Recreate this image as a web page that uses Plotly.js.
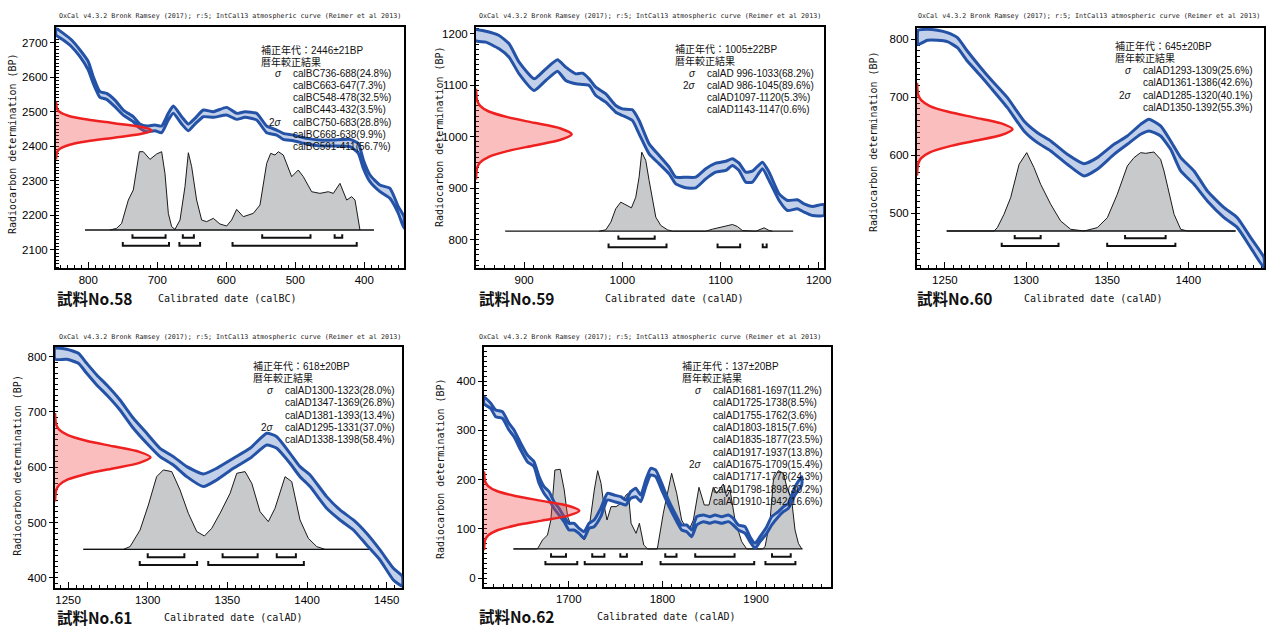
<!DOCTYPE html>
<html><head><meta charset="utf-8">
<script src="https://cdn.plot.ly/plotly-3.0.1.min.js"></script>
<style>html,body{margin:0;padding:0;background:#fff;}</style>
</head><body>
<div id="chart" style="width:1273px;height:628px;"></div>
<script>
// ---------------- DATA ----------------
const titleText = "OxCal v4.3.2 Bronk Ramsey (2017); r:5; IntCal13 atmospheric curve (Reimer et al 2013)";
const yTitleText = "Radiocarbon determination (BP)";

// common shape of the measured-date distribution (red), in sigma units / relative height
const redZ   = [-4, -3.5, -3, -2.5, -2, -1.5, -1, -0.5, 0, 0.5, 1, 1.5, 2, 2.5, 3, 3.5, 4];
const redAmp = [0, 0.001, 0.003, 0.012, 0.037, 0.09, 0.167, 0.243, 0.275, 0.243, 0.167, 0.09, 0.037, 0.012, 0.003, 0.001, 0];

// ---- 試料No.58 (calBC) ----
const s58_label = "試料No.58";
const s58_xTitle = "Calibrated date (calBC)";
const s58_mean = 2446, s58_sd = 21;
const s58_curveYear = [846.8,836.2,824.2,812,800,792.8,783.1,773.4,761.4,749.3,734.8,725.1,715.5,703.4,693.7,684.1,676.8,664.7,655.1,645.4,633.3,618.8,599.5,585,573,556,541.5,527,517.4,502.9,483.6,464.3,444.9,420.8,408.7,401.4,391.8,377.3,362.8,350.7,342.5];
const s58_curveUpper = [2741.5,2727,2707.7,2678.8,2645,2601.6,2558.2,2553.4,2534,2505.1,2485.8,2464.6,2458.8,2461.7,2458.8,2495.5,2516.7,2485.8,2464.6,2481,2505.1,2500.3,2512.8,2495.5,2500.3,2495.5,2458.8,2447.2,2437.6,2432.8,2423.1,2418.3,2418.3,2420.2,2408.6,2360.4,2317,2288,2278.4,2225.3,2196.4];
const s58_curveLower = [2722.2,2707.7,2688.4,2659.5,2620.9,2582.3,2541.8,2536,2514.8,2490.6,2471.3,2452,2442.4,2445.3,2439.5,2476.2,2495.5,2464.6,2445.3,2464.6,2485.8,2483.9,2490.6,2478.1,2483.9,2476.2,2439.5,2432.8,2420.2,2416.4,2406.7,2400.9,2400.9,2399,2379.7,2336.3,2297.7,2268.7,2249.4,2206,2162.6];
const s58_histYear = [768.6,759,751.7,742,734.8,726,720.3,710.6,701,693.7,688.9,684,679.2,674.4,667.1,659.9,655,650.2,643,635.7,628.5,618.8,609.2,599.5,592.3,585,575.4,560.9,551.2,541.5,535.7,529.5,524.6,517.4,505.3,495.7,488.4,476.3,464.3,452.2,444.9,435.3,425.6,418.4,413.5,406.3];
const s58_histBP = [2157.8,2162.6,2177,2244.6,2273.6,2384.5,2384.5,2362.3,2377.8,2384.5,2321.8,2206,2167.4,2159.7,2186.7,2283.2,2381.6,2341,2244.6,2186.7,2182,2191.6,2175.2,2169.4,2186.7,2217.6,2196.4,2206,2230.1,2350.7,2379.7,2374.9,2384.5,2374.9,2312.2,2331.5,2312.2,2268.7,2263.9,2268.7,2263.9,2292.9,2244.6,2254.3,2244.6,2157.8];
const s58_baseYear = [804.8, 386];
const s58_range1 = [[736,688],[663,647],[548,478],[443,432]];
const s58_range2 = [[750,683],[668,638],[591,411]];
const s58_head = ["補正年代：2446±21BP", "暦年較正結果"];
const s58_text1 = ["calBC736-688(24.8%)","calBC663-647(7.3%)","calBC548-478(32.5%)","calBC443-432(3.5%)"];
const s58_text2 = ["calBC750-683(28.8%)","calBC668-638(9.9%)","calBC591-411(56.7%)"];

// ---- 試料No.59 ----
const s59_label = "試料No.59";
const s59_xTitle = "Calibrated date (calAD)";
const s59_mean = 1005, s59_sd = 22;
const s59_curveYear = [850.1,861,874.5,884.7,894.9,910.2,922.1,934,942.4,952.6,959.4,966.2,973,983.2,993.3,1000.1,1010.3,1017.1,1027.3,1037.5,1047.7,1054.4,1064.6,1074.8,1085,1095.2,1105.4,1112.2,1118.9,1125.7,1132.5,1142.7,1149.5,1159.7,1168.2,1178.3,1185.1,1193.6,1205.4];
const s59_curveUpper = [1207.8,1205.2,1196.8,1180.6,1144.9,1112.5,1132,1149.5,1135.2,1122.2,1123.5,1112.5,1096.3,1083.3,1060.7,1054.2,1052.2,1031.5,986.1,963.5,940.8,921.3,921.3,921.3,937.5,948.5,952.4,957,948.5,931,933,950.5,931,888.9,876,877.3,869.5,864.3,868.2];
const s59_curveLower = [1187,1183.8,1170.8,1154.6,1122.2,1089.8,1109.3,1127.4,1109.3,1102.8,1101.5,1099.5,1080.1,1067.1,1047.7,1041.2,1031.5,1005.6,966.7,947.2,927.8,908.4,900.6,900.6,918,931,934.3,944,934.3,911.6,911.6,937.5,914.8,876,856.5,859.8,853.3,846.8,846.8];
const s59_histYear = [976.4,983.2,988.3,993.3,998.4,1003.5,1009.3,1013.7,1017.1,1019.8,1023.9,1027.3,1030.7,1034.1,1039.2,1046,1051,1085,1091.8,1102,1108.8,1112.2,1117.2,1122.3,1136,1141,1144.4,1149.5,1152.9];
const s59_histBP = [816.3,818.9,833.8,859.8,872.7,868.2,861.7,882.4,921.3,969.9,953.7,914.8,876,843.6,827.4,818.9,816.3,816.3,820.2,824.1,827.4,829.3,825.4,817.6,816.3,820.8,822.8,817.6,816.3];
const s59_baseYear = [880.7, 1174];
const s59_range1 = [[996,1033]];
const s59_range2 = [[986,1045],[1097,1120],[1143,1147]];
const s59_head = ["補正年代：1005±22BP", "暦年較正結果"];
const s59_text1 = ["calAD 996-1033(68.2%)"];
const s59_text2 = ["calAD 986-1045(89.6%)","calAD1097-1120(5.3%)","calAD1143-1147(0.6%)"];

// ---- 試料No.60 ----
const s60_label = "試料No.60";
const s60_xTitle = "Calibrated date (calAD)";
const s60_mean = 645, s60_sd = 20;
const s60_curveYear = [1233.5,1239.2,1245.4,1251.5,1257.7,1263.8,1272.1,1278.2,1288.5,1298.7,1307,1315.2,1325.4,1335.7,1343.9,1354.2,1362.4,1370.6,1375.8,1382.9,1389.1,1395.3,1403.5,1411.7,1422,1430.2,1438.4,1446.6];
const s60_curveUpper = [815.5,817.2,815.5,811.5,802.9,779.9,751.1,731,699.4,659.2,639,624.7,601.7,585.6,596,619,633.3,653.4,662.1,650.6,624.7,596,573,538.5,509.8,492.5,458,423.6];
const s60_curveLower = [791.4,798.3,798.3,796,785.6,762.6,736.8,716.7,682.2,642,621.8,607.5,584.5,564.4,575.9,601.7,619,636.2,642,633.3,610.3,573,550,521.3,492.5,475.3,440.8,406.3];
const s60_histYear = [1251.1,1280.3,1282.3,1286.4,1290.5,1295.7,1300.4,1304.9,1309,1315.2,1321.3,1327.5,1335.7,1343.9,1350.1,1356.2,1362.4,1366.5,1370.6,1373.7,1378.8,1382.9,1385,1389.1,1391.2,1395.3,1399.4,1429.1];
const s60_histBP = [469.5,469.5,475.3,498.3,527,584.5,604.6,578.7,550,515.5,486.8,472.4,469.5,475.3,492.5,532.8,581.6,596,604.6,603.4,605.7,593,573,521.3,498.3,472.4,469.5,469.5];
const s60_baseYear = [1251.1, 1429.1];
const s60_range1 = [[1293,1309],[1361,1386]];
const s60_range2 = [[1285,1320],[1350,1392]];
const s60_head = ["補正年代：645±20BP", "暦年較正結果"];
const s60_text1 = ["calAD1293-1309(25.6%)","calAD1361-1386(42.6%)"];
const s60_text2 = ["calAD1285-1320(40.1%)","calAD1350-1392(55.3%)"];

// ---- 試料No.61 ----
const s61_label = "試料No.61";
const s61_xTitle = "Calibrated date (calAD)";
const s61_mean = 618, s61_sd = 20;
const s61_curveYear = [1241.8,1249.2,1256.5,1261.7,1268,1274.3,1282.6,1291,1299.4,1307.7,1316.1,1324.5,1334.9,1343.3,1353.8,1364.2,1374.7,1381,1389.3,1395.6,1401.9,1412.3,1420.7,1429.1,1437.4,1445.8,1454.2,1459.8];
const s61_curveUpper = [815,813.3,806,788,766.9,748.8,721.7,688.6,661.4,634.3,619.3,601.2,588,598.2,616.3,634.3,661.4,655.4,625.3,601.2,586.1,547,522.9,504.8,480.7,450.6,417.5,403];
const s61_curveLower = [795.2,795.2,788,769.9,748.8,730.7,703.6,670.5,643.4,619.3,604.2,583.1,565.1,577.1,598.2,616.3,640.4,634.3,607.2,583.1,565.1,525.9,504.8,486.7,459.6,432.5,396.4,385];
const s61_histYear = [1259.6,1284.7,1288.9,1295.2,1300.4,1305.6,1309.8,1315.1,1320.3,1325.5,1330.8,1335.6,1340.2,1345.4,1351.7,1355.9,1361.1,1365.3,1370.5,1375.7,1379.9,1386.2,1390.4,1395.6,1400.8,1406.1,1411.3,1441.2];
const s61_histBP = [451.8,451.8,456.6,486.7,531.9,583.1,595.2,592.2,559,516.9,483.7,475.9,489.8,516.9,553,589.2,592.2,571.1,519.9,501.8,525.9,583.1,574.1,504.8,471.7,456.6,451.8,451.8];
const s61_baseYear = [1259.6, 1441.2];
const s61_range1 = [[1300,1323],[1347,1369],[1381,1393]];
const s61_range2 = [[1295,1331],[1338,1398]];
const s61_head = ["補正年代：618±20BP", "暦年較正結果"];
const s61_text1 = ["calAD1300-1323(28.0%)","calAD1347-1369(26.8%)","calAD1381-1393(13.4%)"];
const s61_text2 = ["calAD1295-1331(37.0%)","calAD1338-1398(58.4%)"];

// ---- 試料No.62 ----
const s62_label = "試料No.62";
const s62_xTitle = "Calibrated date (calAD)";
const s62_mean = 137, s62_sd = 20;
const s62_curveYear = [1609.4,1616.6,1621.9,1629,1636.1,1641.5,1648.6,1655.7,1662.8,1668.2,1673.5,1678.9,1684.2,1689.5,1694.9,1700.2,1705.6,1710.9,1716.3,1721.6,1727,1734.1,1741.2,1748.3,1755.4,1760.8,1766.1,1771.5,1776.8,1782.2,1787.5,1792.8,1799.2,1806.3,1813.4,1820.5,1825.9,1831.2,1836.6,1843.7,1850.8,1856.1,1863.3,1870.4,1875.7,1881.1,1888.2,1893.5,1898.9,1904.2,1911.4,1916.7,1923.8,1929.2,1934.5,1941.6,1948.8];
const s62_curveUpper = [368,354.8,341.2,337.9,314.2,300.7,273.7,250,236.5,206.1,185.8,175.7,155.4,141.9,125,111.5,111.5,101.4,94.6,111.5,118.2,141.9,172.3,168.9,165.5,158.8,175.7,182.4,168.9,199.3,223,219.6,192.6,158.8,131.8,108.1,108.1,98,125,128.4,125,128.4,125,128.4,121.6,108.1,104.7,84.4,71,84.4,104.7,125,135.1,145.3,152,185.8,206.1];
const s62_curveLower = [354,344.6,327.7,324.4,300.7,287.1,260.1,236.5,226.4,192.6,172.3,158.8,141.9,128.4,114.9,98,98,91.2,81.1,101.4,104.7,125,158.8,155.4,152,148.6,162.2,165.5,155.4,185.8,209.5,206.1,179,148.6,121.6,98,94.6,84.4,108.1,114.9,111.5,114.9,111.5,114.9,108.1,98,91.2,74.3,60.8,74.3,91.2,108.1,125,135.1,141.9,168.9,189.2];
const s62_histYear = [1640.8,1666.5,1671.9,1677.2,1680.8,1685.1,1690.8,1695.1,1698.7,1703,1707.6,1713,1716.5,1721.9,1727.2,1730.8,1734.4,1737.2,1740.8,1745.1,1750.4,1755.8,1761.1,1763.6,1766.5,1771.8,1775.4,1780,1784.3,1794.5,1800.9,1809.8,1815.2,1820.5,1827.6,1833,1839,1844.7,1849.7,1854.3,1857.9,1865,1868.6,1872.2,1877.5,1884.6,1890,1907,1909.6,1915,1918.5,1923.8,1929.2,1932.7,1938,1941.6,1945.2,1948.8];
const s62_histBP = [59.5,59.5,77.7,87.8,118.2,219.6,221,179,125,104.7,101.4,84.4,77.7,104.7,179,218.2,192.6,152,118.2,145.3,145.3,152,168.9,172.3,111.5,91.2,111.5,67.6,59.5,59.5,131.8,212.9,172.3,118.2,94.6,118.2,184.5,148.6,148.6,184.5,172.3,191.2,165.5,179,118.2,74.3,59.5,59.5,64.2,118.2,199.3,218.2,212.9,185.8,158.8,98,71,59.5];
const s62_baseYear = [1640.8, 1949.7];
const s62_range1 = [[1681,1697],[1725,1738],[1755,1762],[1803,1815],[1835,1877],[1917,1937]];
const s62_range2 = [[1675,1709],[1717,1778],[1798,1898],[1910,1942]];
const s62_head = ["補正年代：137±20BP", "暦年較正結果"];
const s62_text1 = ["calAD1681-1697(11.2%)","calAD1725-1738(8.5%)","calAD1755-1762(3.6%)","calAD1803-1815(7.6%)","calAD1835-1877(23.5%)","calAD1917-1937(13.8%)"];
const s62_text2 = ["calAD1675-1709(15.4%)","calAD1717-1778(24.3%)","calAD1798-1898(30.2%)","calAD1910-1942(16.6%)"];

// ---------------- LAYOUT CONFIG (positions, px) ----------------
const W = 1273, H = 628;
const fx = p => p / W, fy = p => 1 - p / H;

const panels = [
  {label:s58_label, xt:s58_xTitle, mean:s58_mean, sd:s58_sd, cy:s58_curveYear, cu:s58_curveUpper, cl:s58_curveLower,
   hy:s58_histYear, hb:s58_histBP, by:s58_baseYear, r1:s58_range1, r2:s58_range2, head:s58_head, t1:s58_text1, t2:s58_text2,
   box:[56,27.3,404,268.3], xr:[846.8,342.5], yr:[2047,2744.6], xd:100, xm:10, yd:100, ym:10,
   row1:[2135.6,2145.3], row2:[2112.4,2123],
   title:[229.5,16], xtp:[226.7,298.3], ytp:[12.7,143.3], lab:[56.7,297.5], tx:260.7, cx:293.3, ty:50, dy:12.0},
  {label:s59_label, xt:s59_xTitle, mean:s59_mean, sd:s59_sd, cy:s59_curveYear, cu:s59_curveUpper, cl:s59_curveLower,
   hy:s59_histYear, hb:s59_histBP, by:s59_baseYear, r1:s59_range1, r2:s59_range2, head:s59_head, t1:s59_text1, t2:s59_text2,
   box:[476,27,824,268], xr:[851,1205.4], yr:[744.7,1213.3], xd:100, xm:10, yd:100, ym:10,
   row1:[801.4,808], row2:[785.2,792.5],
   title:[649.5,16], xtp:[674,298], ytp:[439.3,136.7], lab:[479,297.5], tx:675, cx:706.7, ty:49.3, dy:12.1},
  {label:s60_label, xt:s60_xTitle, mean:s60_mean, sd:s60_sd, cy:s60_curveYear, cu:s60_curveUpper, cl:s60_curveLower,
   hy:s60_histYear, hb:s60_histBP, by:s60_baseYear, r1:s60_range1, r2:s60_range2, head:s60_head, t1:s60_text1, t2:s60_text2,
   box:[917,28,1264.3,268], xr:[1232.8,1446.8], yr:[405.7,819.5], xd:50, xm:5, yd:100, ym:10,
   row1:[457,462.5], row2:[443.7,449.4],
   title:[1089,16], xtp:[1093,298], ytp:[873.3,141.7], lab:[917,297.5], tx:1115, cx:1143.3, ty:46, dy:12.3},
  {label:s61_label, xt:s61_xTitle, mean:s61_mean, sd:s61_sd, cy:s61_curveYear, cu:s61_curveUpper, cl:s61_curveLower,
   hy:s61_histYear, hb:s61_histBP, by:s61_baseYear, r1:s61_range1, r2:s61_range2, head:s61_head, t1:s61_text1, t2:s61_text2,
   box:[55,346.7,402.3,588.3], xr:[1241.8,1459.8], yr:[381.3,818], xd:50, xm:5, yd:100, ym:10,
   row1:[437.3,444.6], row2:[423.5,430.7],
   title:[229.5,336.7], xtp:[232.7,617.5], ytp:[16.7,465], lab:[56.7,616.5], tx:253.3, cx:285, ty:366, dy:12.3},
  {label:s62_label, xt:s62_xTitle, mean:s62_mean, sd:s62_sd, cy:s62_curveYear, cu:s62_curveUpper, cl:s62_curveLower,
   hy:s62_histYear, hb:s62_histBP, by:s62_baseYear, r1:s62_range1, r2:s62_range2, head:s62_head, t1:s62_text1, t2:s62_text2,
   box:[484,346.7,830.7,586.7], xr:[1609.4,1979.7], yr:[-17,469.6], xd:100, xm:10, yd:100, ym:10,
   row1:[43.9,50.6], row2:[28.4,35],
   title:[649.5,336.7], xtp:[665.7,616.2], ytp:[440.7,468.3], lab:[479,616], tx:681.7, cx:713.3, ty:366, dy:12.3}
];

const BLUE = '#2452a6', BLUEFILL = '#c3d0e9';
const tickFont = {family:'Liberation Sans, Arial, sans-serif', size:11.5, color:'#000'};
const txtFont = {family:'Liberation Sans, Noto Sans CJK JP, sans-serif', size:10, color:'#111'};
const monoFont = {family:'DejaVu Sans Mono, monospace', size:10, color:'#111'};

const traces = [];
const layout = {
  width:W, height:H, margin:{l:0,r:0,t:0,b:0}, showlegend:false,
  paper_bgcolor:'#fff', plot_bgcolor:'rgba(0,0,0,0)', annotations:[]
};

function bracketTrace(ranges, row, xa, ya) {
  const xs = [], ys = [];
  ranges.forEach(r => { xs.push(r[0], r[0], r[1], r[1], null); ys.push(row[1], row[0], row[0], row[1], null); });
  return {x:xs, y:ys, xaxis:xa, yaxis:ya, mode:'lines', line:{color:'#111', width:2}, hoverinfo:'skip'};
}

panels.forEach((p, i) => {
  const n = i + 1;
  const xa = n === 1 ? 'x' : 'x' + n, ya = n === 1 ? 'y' : 'y' + n;
  const xr = 'x' + (n + 5);
  const xk = n === 1 ? 'xaxis' : 'xaxis' + n, yk = n === 1 ? 'yaxis' : 'yaxis' + n;
  const [l, t, r, b] = p.box;
  layout[xk] = {
    domain:[fx(l), fx(r)], range:p.xr, anchor:ya, dtick:p.xd, tick0:0,
    ticks:'inside', ticklen:6, tickwidth:1, tickcolor:'#000',
    minor:{dtick:p.xm, tick0:0, ticks:'inside', ticklen:3, tickwidth:1, tickcolor:'#000', showgrid:false},
    showline:true, linewidth:2, linecolor:'#000', mirror:true, showgrid:false, zeroline:false,
    tickfont:tickFont, layer:'below traces', fixedrange:true
  };
  layout[yk] = {
    domain:[fy(b), fy(t)], range:p.yr, anchor:xa, dtick:p.yd, tick0:0,
    ticks:'outside', ticklen:4, tickwidth:1, tickcolor:'#000',
    minor:{dtick:p.ym, tick0:0, ticks:'inside', ticklen:3, tickwidth:1, tickcolor:'#000', showgrid:false},
    showline:true, linewidth:2, linecolor:'#000', mirror:true, showgrid:false, zeroline:false,
    tickfont:tickFont, layer:'below traces', fixedrange:true
  };
  layout['xaxis' + (n + 5)] = {overlaying:xa, anchor:ya, range:[0,1], visible:false, fixedrange:true};

  // grey calibrated distribution
  traces.push({x:p.hy, y:p.hb, xaxis:xa, yaxis:ya, mode:'lines', fill:'toself', fillcolor:'#c8c9cb',
               line:{color:'#1a1a1a', width:1}, hoverinfo:'skip'});
  traces.push({x:p.by, y:[p.hb[0], p.hb[0]], xaxis:xa, yaxis:ya, mode:'lines', line:{color:'#111', width:1.3}, hoverinfo:'skip'});
  // range brackets
  traces.push(bracketTrace(p.r1, p.row1, xa, ya));
  traces.push(bracketTrace(p.r2, p.row2, xa, ya));
  // calibration curve band
  const bx = p.cy.concat(p.cy.slice().reverse(), [p.cy[0]]);
  const byy = p.cu.concat(p.cl.slice().reverse(), [p.cu[0]]);
  traces.push({x:bx, y:byy, xaxis:xa, yaxis:ya, mode:'lines', fill:'toself', fillcolor:BLUEFILL,
               line:{color:BLUE, width:3, shape:'spline', smoothing:0.5}, hoverinfo:'skip'});
  // red measured distribution
  traces.push({x:redAmp, y:redZ.map(z => p.mean + z * p.sd), xaxis:xr, yaxis:ya, mode:'lines', fill:'toself',
               fillcolor:'rgba(240,70,70,0.35)', line:{color:'#ee2020', width:2.5, shape:'spline', smoothing:0.8}, hoverinfo:'skip'});

  // texts
  const A = layout.annotations;
  const ann = (x, y, text, font, xanchor, extra) => A.push(Object.assign({xref:'paper', yref:'paper', x:fx(x), y:fy(y), text,
      font, xanchor, yanchor:'middle', showarrow:false, borderpad:0, borderwidth:0}, extra || {}));
  ann(p.title[0], p.title[1], titleText, {family:'DejaVu Sans Mono, monospace', size:6.7, color:'#222'}, 'center');
  ann(p.xtp[0], p.xtp[1], p.xt, monoFont, 'center');
  ann(p.ytp[0], p.ytp[1], yTitleText, monoFont, 'center', {textangle:-90});
  ann(p.lab[0], p.lab[1], p.label, {family:'Noto Sans CJK JP, sans-serif', size:15.5, color:'#111', weight:'bold'}, 'left');
  let k = 0;
  p.head.forEach(h => { ann(p.tx, p.ty + p.dy * k, h, txtFont, 'left'); k++; });
  p.t1.forEach((s, j) => {
    if (j === 0) ann(p.cx - 11, p.ty + p.dy * k, '<i>σ</i>', txtFont, 'right');
    ann(p.cx, p.ty + p.dy * k, s, txtFont, 'left'); k++;
  });
  p.t2.forEach((s, j) => {
    if (j === 0) ann(p.cx - 11, p.ty + p.dy * k, '2<i>σ</i>', txtFont, 'right');
    ann(p.cx, p.ty + p.dy * k, s, txtFont, 'left'); k++;
  });
});

Plotly.newPlot('chart', traces, layout, {staticPlot:true, displayModeBar:false});
</script>
</body></html>
